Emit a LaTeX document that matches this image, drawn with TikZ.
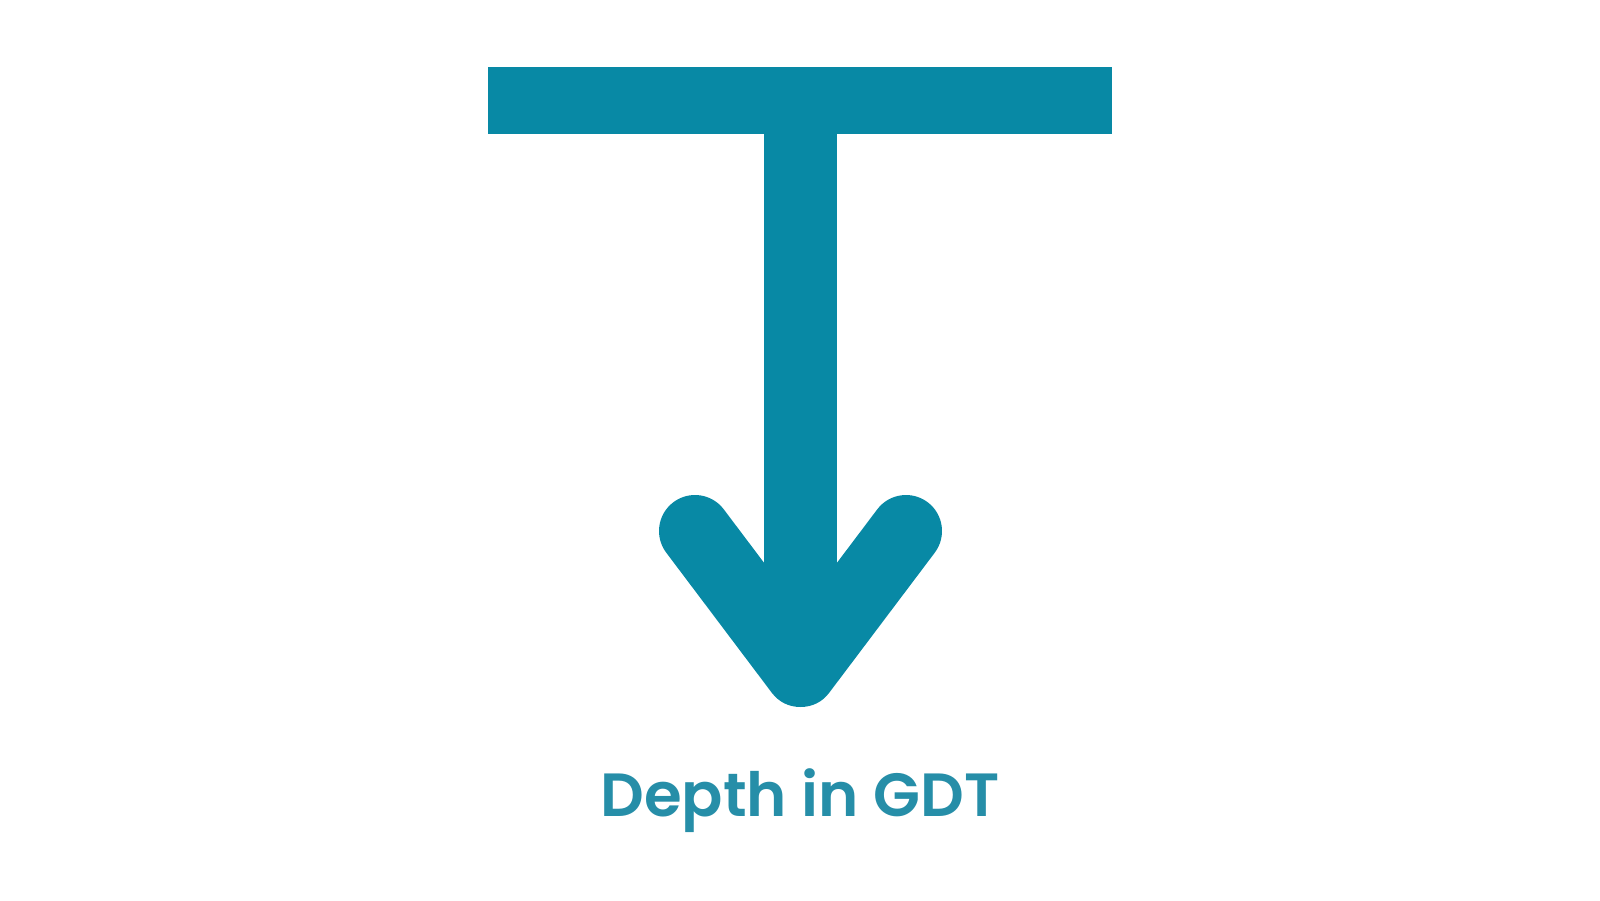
\documentclass[tikz,border=0pt]{standalone}
\usepackage{fontspec}
\setmainfont{Poppins}[BoldFont={Poppins SemiBold}]
\usetikzlibrary{calc}

\definecolor{depthteal}{RGB}{8,137,165}
\definecolor{labelteal}{RGB}{38,142,168}

\begin{document}
\begin{tikzpicture}[x=1pt, y=-1pt,
    depthline/.style={line width=73pt, draw=depthteal},
    depthlabel/.style={text=labelteal, font=\fontsize{61}{66}\selectfont\bfseries}]
  % Fix the page size
  \useasboundingbox (0,0) rectangle (1600,900);

  % Define points for the symbol
  \coordinate (BL) at (488,67);
  \coordinate (BR) at (1112,134);
  \coordinate (S) at (800.5,134);
  \coordinate (T) at (800.5,671);
  \coordinate (L) at (695,531);
  \coordinate (R) at (906,531);

  % Draw the bar
  \fill[depthteal] (BL) rectangle (BR);

  % Draw the stem and the arrow head
  \draw[depthline] (S) -- (T);
  \draw[depthline, line width=72pt, line cap=round, line join=round] (L) -- (T) -- (R);

  % Label
  \node[depthlabel, anchor=base] (lab) at (800,816) {Depth in GDT};

\end{tikzpicture}
\end{document}
